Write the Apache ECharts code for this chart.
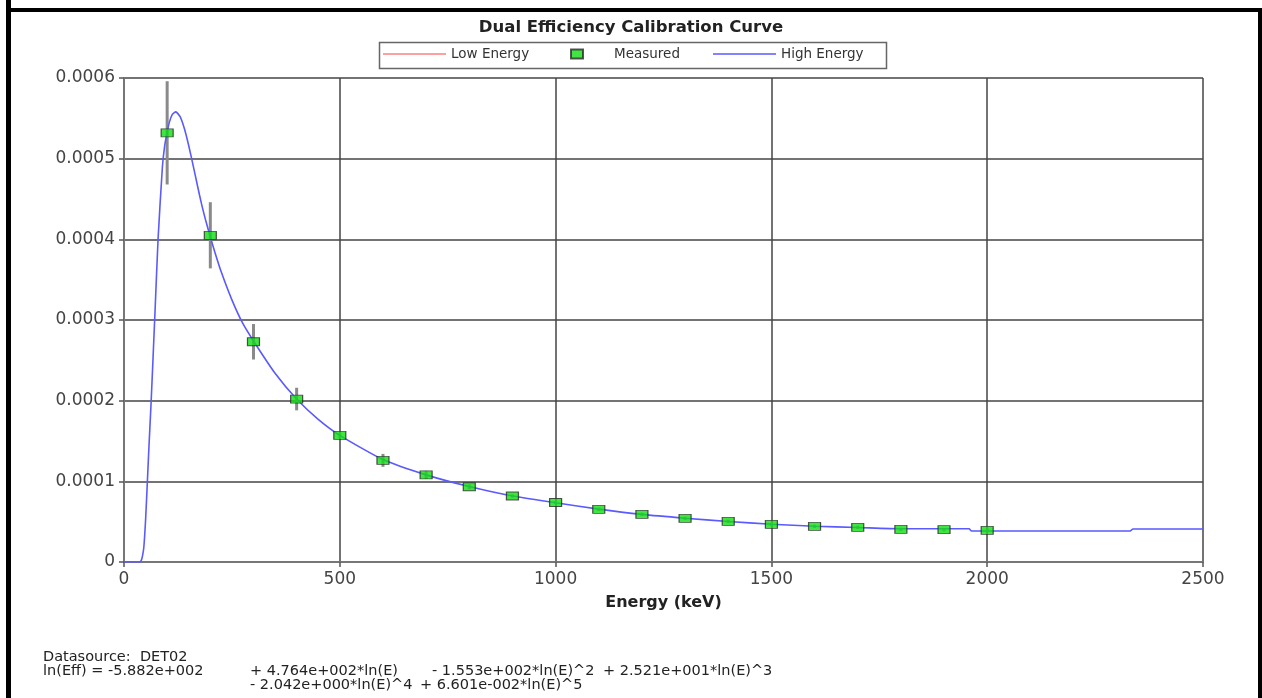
<!DOCTYPE html>
<html>
<head>
<meta charset="utf-8">
<script src="https://cdn.jsdelivr.net/npm/echarts@6/dist/echarts.min.js"></script>
<style>
  html, body { margin: 0; padding: 0; background: #fff; }
  #chart { width: 1262px; height: 698px; }
</style>
</head>
<body>
<div id="chart"></div>
<script>
// 测量点（keV, 效率, 误差）
const measuredEnergy = [100, 200, 300, 400, 500, 600, 700, 800, 900, 1000,
  1100, 1200, 1300, 1400, 1500, 1600, 1700, 1800, 1900, 2000];
const measuredEff = [0.000532, 0.000405, 0.000273, 0.000202, 0.000157, 0.000126, 0.000108, 0.0000933, 0.0000818, 0.0000738,
  0.0000653, 0.0000591, 0.0000541, 0.0000504, 0.0000467, 0.0000442, 0.000043, 0.0000405, 0.0000401, 0.0000393];
const measuredErr = [0.000064, 0.000041, 0.000022, 0.000014, 0.000003, 0.000008, 0.000005, 0.000003, 0.000002, 0.000002,
  0.000002, 0.000002, 0.000002, 0.000002, 0.000002, 0.000002, 0.000002, 0.000002, 0.000002, 0.000002];

// 高能拟合曲线
const highEnergyE = [0, 37, 40, 43, 46, 50, 54, 58, 63, 72, 79, 89, 94, 99, 105, 112, 120,
  130, 140, 150, 160, 170, 180, 190, 200, 210, 225, 250, 275, 300, 350, 400, 450, 500,
  600, 700, 800, 900, 1000, 1100, 1200, 1300, 1400, 1500, 1600, 1700, 1800, 1900,
  1958, 1964, 2000, 2330, 2338, 2500];
const highEnergyEff = [0, 0, 0.000002, 0.000008, 0.0000186, 0.000052, 0.0000979, 0.000145, 0.0002, 0.000312, 0.000401, 0.00049, 0.000515, 0.00053, 0.000545, 0.000555, 0.000558,
  0.000552, 0.000537, 0.000516, 0.000492, 0.000467, 0.000443, 0.000422, 0.000403, 0.000385, 0.00036, 0.000325, 0.000296, 0.000274, 0.000234, 0.000202, 0.0001768, 0.000157,
  0.000127, 0.000108, 0.0000935, 0.0000818, 0.0000735, 0.0000655, 0.000059, 0.0000543, 0.0000503, 0.0000468, 0.0000443, 0.0000428, 0.0000412, 0.0000412,
  0.0000412, 0.0000384, 0.0000384, 0.0000384, 0.0000409, 0.0000409];

const lowEnergyE = [];
const lowEnergyEff = [];

const fontFamily = '"DejaVu Sans", "Liberation Sans", sans-serif';
const chart = echarts.init(document.getElementById('chart'));

const legendText = { fontSize: 13.5, color: '#333', fontFamily: fontFamily };
const formulaStyle = { fontSize: 14.5, fill: '#222', fontFamily: fontFamily };
const lineIcon = 'path://M0,0L63,0L63,1.5L0,1.5Z';

const option = {
  backgroundColor: '#fff',
  animation: false,
  title: {
    text: 'Dual Efficiency Calibration Curve',
    left: 'center',
    top: 19,
    padding: 0,
    textStyle: { fontSize: 16.5, fontWeight: 'bold', color: '#222', fontFamily: fontFamily }
  },
  legend: [
    { data: [{ name: 'Low Energy', icon: lineIcon }], left: 383, top: 47, padding: 0, itemWidth: 63, itemHeight: 10, textStyle: legendText },
    { data: [{ name: 'Measured', icon: 'path://M0,0L12,0L12,9L0,9Z' }], left: 570, top: 47, padding: 0, itemWidth: 12, itemHeight: 9, itemGap: 0, textStyle: Object.assign({ padding: [0, 0, 0, 26] }, legendText) },
    { data: [{ name: 'High Energy', icon: lineIcon }], left: 713, top: 47, padding: 0, itemWidth: 63, itemHeight: 10, textStyle: legendText }
  ],
  grid: { left: 124, right: 59, top: 78, bottom: 136 },
  xAxis: {
    type: 'value',
    min: 0, max: 2500, interval: 500,
    name: 'Energy (keV)',
    nameLocation: 'middle',
    nameGap: 33,
    nameTextStyle: { fontSize: 16, fontWeight: 'bold', color: '#222', fontFamily: fontFamily },
    axisLine: { show: true, lineStyle: { color: '#777', width: 2 } },
    axisTick: { show: true, length: 5, lineStyle: { color: '#555', width: 1.5 } },
    axisLabel: { fontSize: 17, color: '#444', margin: 9, fontFamily: fontFamily, formatter: v => String(v) },
    splitLine: { show: true, lineStyle: { color: '#444', width: 1.5 } }
  },
  yAxis: {
    type: 'value',
    min: 0, max: 0.0006, interval: 0.0001,
    axisLine: { show: true, lineStyle: { color: '#777', width: 2 } },
    axisTick: { show: true, length: 5, lineStyle: { color: '#555', width: 1.5 } },
    axisLabel: {
      fontSize: 17, color: '#444', margin: 9, fontFamily: fontFamily,
      formatter: v => (v === 0 ? '0' : v.toFixed(4))
    },
    splitLine: { show: true, lineStyle: { color: '#444', width: 1.5 } }
  },
  series: [
    {
      name: 'Low Energy',
      type: 'line',
      symbol: 'none',
      itemStyle: { color: '#ff8080' },
      lineStyle: { color: '#ff8080', width: 1.5 },
      data: lowEnergyE.map((e, i) => [e, lowEnergyEff[i]])
    },
    {
      // 误差棒
      name: 'errorbar',
      type: 'custom',
      z: 3,
      renderItem: function (params, api) {
        const x = api.value(0);
        const top = api.coord([x, api.value(1) + api.value(2)]);
        const bottom = api.coord([x, api.value(1) - api.value(2)]);
        return {
          type: 'line',
          shape: { x1: top[0], y1: top[1], x2: bottom[0], y2: bottom[1] },
          style: { stroke: '#8a8a8a', lineWidth: 3 }
        };
      },
      data: measuredEnergy.map((e, i) => [e, measuredEff[i], measuredErr[i]])
    },
    {
      name: 'High Energy',
      type: 'line',
      z: 4,
      symbol: 'none',
      smooth: 0.2,
      itemStyle: { color: '#5a5aff' },
      lineStyle: { color: '#5a5aff', width: 1.6 },
      data: highEnergyE.map((e, i) => [e, highEnergyEff[i]])
    },
    {
      name: 'Measured',
      type: 'scatter',
      z: 5,
      symbol: 'rect',
      symbolSize: [12, 8],
      itemStyle: { color: '#11dd11', borderColor: '#2a2a2a', borderWidth: 1 },
      data: measuredEnergy.map((e, i) => [e, measuredEff[i]])
    }
  ],
  graphic: [
    // 外框
    { type: 'rect', left: 6, top: 0, shape: { width: 5, height: 698 }, style: { fill: '#000' } },
    { type: 'rect', left: 6, top: 8, shape: { width: 1256, height: 4 }, style: { fill: '#000' } },
    { type: 'rect', left: 1258, top: 8, shape: { width: 4, height: 690 }, style: { fill: '#000' } },
    // 图例框
    { type: 'rect', left: 377, top: 40, shape: { width: 507, height: 26 }, style: { fill: 'none', stroke: '#666', lineWidth: 1.5 } },
    // 公式
    { type: 'text', left: 43, top: 650, style: Object.assign({ text: 'Datasource:  DET02' }, formulaStyle) },
    { type: 'text', left: 43, top: 664, style: Object.assign({ text: 'ln(Eff) = -5.882e+002' }, formulaStyle) },
    { type: 'text', left: 250, top: 664, style: Object.assign({ text: '+ 4.764e+002*ln(E)' }, formulaStyle) },
    { type: 'text', left: 432, top: 664, style: Object.assign({ text: '- 1.553e+002*ln(E)^2' }, formulaStyle) },
    { type: 'text', left: 603, top: 664, style: Object.assign({ text: '+ 2.521e+001*ln(E)^3' }, formulaStyle) },
    { type: 'text', left: 250, top: 678, style: Object.assign({ text: '- 2.042e+000*ln(E)^4' }, formulaStyle) },
    { type: 'text', left: 420, top: 678, style: Object.assign({ text: '+ 6.601e-002*ln(E)^5' }, formulaStyle) }
  ]
};

chart.setOption(option);
</script>
</body>
</html>
